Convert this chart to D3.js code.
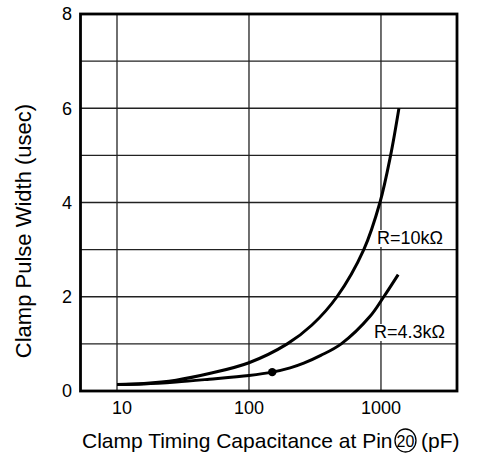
<!DOCTYPE html>
<html>
<head>
<meta charset="utf-8">
<script src="https://cdn.jsdelivr.net/npm/d3@7"></script>
<style>
  html, body { margin: 0; padding: 0; background: #fff; }
  svg { display: block; font-family: "Liberation Sans", Arial, Helvetica, sans-serif; }
</style>
</head>
<body>
<svg id="chart" width="477" height="456"></svg>
<script>
// Clamp pulse width vs. clamp timing capacitance (log scale)
const capTicks = [10, 100, 1000];
const capTickLabels = ["10", "100", "1000"];
const widthGrid = [0, 1, 2, 3, 4, 5, 6, 7, 8];
const widthTicks = [0, 2, 4, 6, 8];

const r10kCap   = [10, 16, 28, 50, 100, 195, 300, 464, 741, 982, 1183, 1368];
const r10kWidth = [0.14, 0.16, 0.23, 0.37, 0.60, 1.0, 1.4, 2.0, 3.0, 4.0, 5.0, 6.0];

const r43kCap   = [10, 16, 28, 50, 100, 150, 205, 260, 350, 500, 830, 1050, 1350];
const r43kWidth = [0.14, 0.15, 0.19, 0.25, 0.33, 0.40, 0.49, 0.59, 0.755, 1.0, 1.59, 2.0, 2.47];

const markerCap = [150];
const markerWidth = [0.40];

const seriesNames = ["R=10k\u03A9", "R=4.3k\u03A9"];

const svg = d3.select("#chart");
const plotL = 80.5, plotR = 457, plotT = 14, plotB = 391;

const x = d3.scaleLog().domain([5.29, 3767]).range([plotL, plotR]);
const y = d3.scaleLinear().domain([0, 8]).range([plotB, plotT]);

// grid
const grid = svg.append("g").attr("stroke", "#222").attr("stroke-width", 1.3);
grid.selectAll("line.h").data(widthGrid).join("line")
  .attr("x1", plotL).attr("x2", plotR)
  .attr("y1", d => y(d)).attr("y2", d => y(d));
grid.selectAll("line.v").data(capTicks).join("line")
  .attr("x1", d => x(d)).attr("x2", d => x(d))
  .attr("y1", plotT).attr("y2", plotB);

// curves
const line = d3.line()
  .x(d => x(d[0])).y(d => y(d[1]))
  .curve(d3.curveCatmullRom.alpha(0.5));

const series = [
  d3.zip(r10kCap, r10kWidth),
  d3.zip(r43kCap, r43kWidth)
];
svg.append("g").selectAll("path").data(series).join("path")
  .attr("d", line)
  .attr("fill", "none")
  .attr("stroke", "#000")
  .attr("stroke-width", 3)
  .attr("stroke-linecap", "butt");

svg.append("g").selectAll("circle").data(d3.zip(markerCap, markerWidth)).join("circle")
  .attr("cx", d => x(d[0])).attr("cy", d => y(d[1]))
  .attr("r", 4.2).attr("fill", "#000");

// series labels with white backing
const labelPos = [[377, 244], [374, 338]];
seriesNames.forEach((name, i) => {
  const g = svg.append("g");
  const t = g.append("text")
    .attr("x", labelPos[i][0]).attr("y", labelPos[i][1])
    .attr("font-size", 18).attr("fill", "#000")
    .text(name);
  const bb = t.node().getBBox();
  g.insert("rect", "text")
    .attr("x", bb.x - 1).attr("y", bb.y + 2)
    .attr("width", bb.width + 2).attr("height", bb.height - 3)
    .attr("fill", "#fff");
});

// frame
svg.append("rect")
  .attr("x", plotL).attr("y", plotT)
  .attr("width", plotR - plotL).attr("height", plotB - plotT)
  .attr("fill", "none").attr("stroke", "#000").attr("stroke-width", 2.8);

// y tick labels
svg.append("g").selectAll("text").data(widthTicks).join("text")
  .attr("x", 72).attr("y", d => y(d))
  .attr("dy", "0.36em")
  .attr("text-anchor", "end")
  .attr("font-size", 18)
  .text(d => d);

// x tick labels
svg.append("g").selectAll("text").data(capTicks).join("text")
  .attr("x", d => x(d)).attr("y", 414)
  .attr("dx", (d, i) => i === 0 ? 5 : 0)
  .attr("text-anchor", "middle")
  .attr("font-size", 18)
  .text((d, i) => capTickLabels[i]);

// y title
svg.append("text")
  .attr("transform", "translate(31,231) rotate(-90)")
  .attr("text-anchor", "middle")
  .attr("font-size", 22)
  .text("Clamp Pulse Width (usec)");

// x title: text, circled pin number, unit
const xt = svg.append("g");
const t1 = xt.append("text")
  .attr("x", 82).attr("y", 448)
  .attr("font-size", 21)
  .text("Clamp Timing Capacitance at Pin");
const end1 = 82 + t1.node().getComputedTextLength();
const rx = 10.5, ry = 11.5;
const cx = end1 + 2.5 + rx;
xt.append("ellipse")
  .attr("cx", cx).attr("cy", 440.5)
  .attr("rx", rx).attr("ry", ry)
  .attr("fill", "none").attr("stroke", "#000").attr("stroke-width", 1.3);
xt.append("text")
  .attr("x", cx).attr("y", 446.5)
  .attr("text-anchor", "middle")
  .attr("font-size", 16)
  .text("20");
xt.append("text")
  .attr("x", cx + rx + 5).attr("y", 448)
  .attr("font-size", 21)
  .text("(pF)");
</script>
</body>
</html>
